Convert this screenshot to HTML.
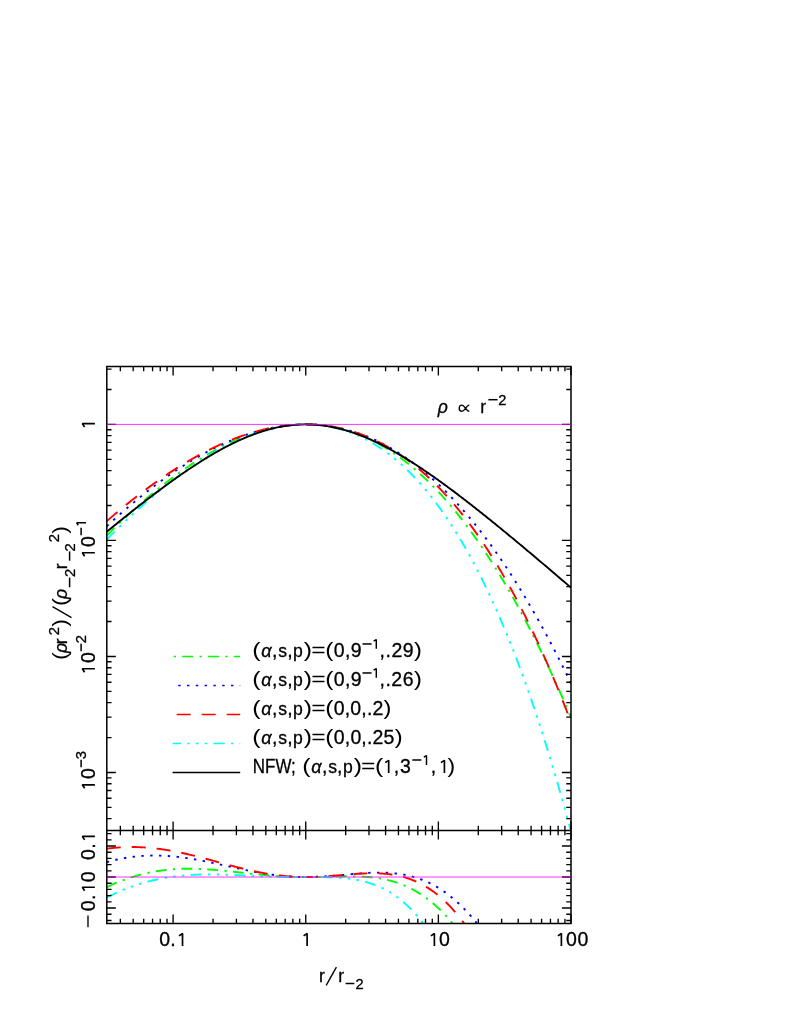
<!DOCTYPE html><html><head><meta charset="utf-8"><title>profile</title><style>html,body{margin:0;padding:0;background:#fff}svg{display:block;will-change:transform}text{font-family:"Liberation Sans",sans-serif;fill:#000;white-space:pre;stroke:#000;stroke-width:0.3px}</style></head><body>
<svg width="789" height="1021" viewBox="0 0 789 1021">
<rect width="789" height="1021" fill="#fff"/>
<defs><clipPath id="c1"><rect x="106.80" y="366.40" width="464.20" height="464.10"/></clipPath><clipPath id="c2"><rect x="106.80" y="830.50" width="464.20" height="93.05"/></clipPath></defs>
<g clip-path="url(#c1)" fill="none" stroke-width="1.90">
<path d="M106.80 535.53 L107.96 534.37 L109.12 533.22 L110.28 532.07 L111.44 530.92 L112.60 529.78 L113.76 528.64 L114.92 527.51 L116.08 526.38 L117.24 525.26 L118.40 524.14 L119.57 523.03 L120.73 521.92 L121.89 520.81 L123.05 519.71 L124.21 518.62 L125.37 517.53 L126.53 516.45 L127.69 515.37 L128.85 514.30 L130.01 513.23 L131.17 512.16 L132.33 511.10 L133.49 510.05 L134.65 509.00 L135.81 507.96 L136.97 506.92 L138.13 505.89 L139.29 504.86 L140.45 503.83 L141.62 502.82 L142.78 501.80 L143.94 500.80 L145.10 499.80 L146.26 498.80 L147.42 497.81 L148.58 496.82 L149.74 495.84 L150.90 494.87 L152.06 493.90 L153.22 492.94 L154.38 491.98 L155.54 491.02 L156.70 490.08 L157.86 489.14 L159.02 488.20 L160.18 487.27 L161.34 486.35 L162.50 485.43 L163.66 484.51 L164.82 483.61 L165.99 482.70 L167.15 481.81 L168.31 480.92 L169.47 480.03 L170.63 479.16 L171.79 478.28 L172.95 477.42 L174.11 476.56 L175.27 475.70 L176.43 474.85 L177.59 474.01 L178.75 473.17 L179.91 472.34 L181.07 471.52 L182.23 470.70 L183.39 469.89 L184.55 469.08 L185.71 468.28 L186.87 467.49 L188.04 466.70 L189.20 465.92 L190.36 465.15 L191.52 464.38 L192.68 463.62 L193.84 462.86 L195.00 462.11 L196.16 461.37 L197.32 460.63 L198.48 459.90 L199.64 459.18 L200.80 458.47 L201.96 457.76 L203.12 457.05 L204.28 456.36 L205.44 455.67 L206.60 454.98 L207.76 454.31 L208.92 453.64 L210.08 452.97 L211.25 452.32 L212.41 451.67 L213.57 451.02 L214.73 450.39 L215.89 449.76 L217.05 449.14 L218.21 448.52 L219.37 447.92 L220.53 447.32 L221.69 446.72 L222.85 446.14 L224.01 445.56 L225.17 444.98 L226.33 444.42 L227.49 443.86 L228.65 443.31 L229.81 442.77 L230.97 442.23 L232.13 441.70 L233.29 441.18 L234.45 440.67 L235.62 440.16 L236.78 439.66 L237.94 439.17 L239.10 438.68 L240.26 438.21 L241.42 437.74 L242.58 437.28 L243.74 436.82 L244.90 436.37 L246.06 435.94 L247.22 435.50 L248.38 435.08 L249.54 434.67 L250.70 434.26 L251.86 433.86 L253.02 433.47 L254.18 433.08 L255.34 432.70 L256.50 432.34 L257.67 431.98 L258.83 431.62 L259.99 431.28 L261.15 430.94 L262.31 430.61 L263.47 430.29 L264.63 429.98 L265.79 429.68 L266.95 429.38 L268.11 429.09 L269.27 428.81 L270.43 428.54 L271.59 428.28 L272.75 428.03 L273.91 427.78 L275.07 427.54 L276.23 427.31 L277.39 427.09 L278.55 426.88 L279.71 426.68 L280.88 426.48 L282.04 426.30 L283.20 426.12 L284.36 425.95 L285.52 425.79 L286.68 425.64 L287.84 425.49 L289.00 425.36 L290.16 425.23 L291.32 425.12 L292.48 425.01 L293.64 424.91 L294.80 424.82 L295.96 424.74 L297.12 424.67 L298.28 424.60 L299.44 424.55 L300.60 424.50 L301.76 424.47 L302.92 424.44 L304.09 424.42 L305.25 424.41 L306.41 424.41 L307.57 424.42 L308.73 424.44 L309.89 424.47 L311.05 424.51 L312.21 424.56 L313.37 424.61 L314.53 424.68 L315.69 424.75 L316.85 424.84 L318.01 424.93 L319.17 425.04 L320.33 425.15 L321.49 425.27 L322.65 425.41 L323.81 425.55 L324.97 425.70 L326.13 425.86 L327.30 426.04 L328.46 426.22 L329.62 426.41 L330.78 426.61 L331.94 426.82 L333.10 427.04 L334.26 427.27 L335.42 427.51 L336.58 427.76 L337.74 428.02 L338.90 428.29 L340.06 428.58 L341.22 428.87 L342.38 429.17 L343.54 429.48 L344.70 429.80 L345.86 430.13 L347.02 430.47 L348.18 430.83 L349.34 431.19 L350.50 431.56 L351.67 431.94 L352.83 432.34 L353.99 432.74 L355.15 433.16 L356.31 433.58 L357.47 434.02 L358.63 434.46 L359.79 434.92 L360.95 435.39 L362.11 435.86 L363.27 436.35 L364.43 436.85 L365.59 437.36 L366.75 437.88 L367.91 438.41 L369.07 438.95 L370.23 439.51 L371.39 440.07 L372.55 440.65 L373.72 441.23 L374.88 441.83 L376.04 442.43 L377.20 443.05 L378.36 443.68 L379.52 444.32 L380.68 444.97 L381.84 445.64 L383.00 446.31 L384.16 446.99 L385.32 447.69 L386.48 448.40 L387.64 449.11 L388.80 449.84 L389.96 450.59 L391.12 451.34 L392.28 452.10 L393.44 452.88 L394.60 453.66 L395.76 454.46 L396.93 455.27 L398.09 456.09 L399.25 456.92 L400.41 457.76 L401.57 458.62 L402.73 459.48 L403.89 460.36 L405.05 461.25 L406.21 462.15 L407.37 463.07 L408.53 463.99 L409.69 464.93 L410.85 465.87 L412.01 466.83 L413.17 467.81 L414.33 468.79 L415.49 469.78 L416.65 470.79 L417.81 471.81 L418.97 472.84 L420.13 473.88 L421.30 474.94 L422.46 476.00 L423.62 477.08 L424.78 478.17 L425.94 479.27 L427.10 480.39 L428.26 481.51 L429.42 482.65 L430.58 483.80 L431.74 484.97 L432.90 486.14 L434.06 487.33 L435.22 488.53 L436.38 489.74 L437.54 490.96 L438.70 492.20 L439.86 493.45 L441.02 494.71 L442.18 495.98 L443.35 497.27 L444.51 498.56 L445.67 499.87 L446.83 501.20 L447.99 502.53 L449.15 503.88 L450.31 505.24 L451.47 506.61 L452.63 507.99 L453.79 509.39 L454.95 510.80 L456.11 512.22 L457.27 513.66 L458.43 515.10 L459.59 516.56 L460.75 518.04 L461.91 519.52 L463.07 521.02 L464.23 522.53 L465.39 524.05 L466.56 525.59 L467.72 527.14 L468.88 528.70 L470.04 530.27 L471.20 531.86 L472.36 533.46 L473.52 535.07 L474.68 536.70 L475.84 538.33 L477.00 539.98 L478.16 541.65 L479.32 543.32 L480.48 545.01 L481.64 546.72 L482.80 548.43 L483.96 550.16 L485.12 551.90 L486.28 553.65 L487.44 555.42 L488.60 557.20 L489.77 558.99 L490.93 560.80 L492.09 562.62 L493.25 564.45 L494.41 566.29 L495.57 568.15 L496.73 570.02 L497.89 571.91 L499.05 573.80 L500.21 575.72 L501.37 577.64 L502.53 579.57 L503.69 581.52 L504.85 583.49 L506.01 585.46 L507.17 587.45 L508.33 589.45 L509.49 591.47 L510.65 593.50 L511.81 595.54 L512.98 597.59 L514.14 599.66 L515.30 601.74 L516.46 603.84 L517.62 605.95 L518.78 608.07 L519.94 610.20 L521.10 612.35 L522.26 614.51 L523.42 616.68 L524.58 618.87 L525.74 621.07 L526.90 623.28 L528.06 625.51 L529.22 627.75 L530.38 630.01 L531.54 632.27 L532.70 634.55 L533.86 636.85 L535.02 639.15 L536.18 641.47 L537.35 643.81 L538.51 646.15 L539.67 648.51 L540.83 650.89 L541.99 653.27 L543.15 655.67 L544.31 658.09 L545.47 660.51 L546.63 662.95 L547.79 665.41 L548.95 667.87 L550.11 670.35 L551.27 672.85 L552.43 675.35 L553.59 677.87 L554.75 680.41 L555.91 682.96 L557.07 685.52 L558.23 688.09 L559.39 690.68 L560.56 693.28 L561.72 695.89 L562.88 698.52 L564.04 701.16 L565.20 703.81 L566.36 706.48 L567.52 709.16 L568.68 711.85 L569.84 714.56 L571.00 717.28" stroke="#00ff00" stroke-dasharray="10.9 6.4 2.3 6.2"/>
<path d="M106.80 526.18 L107.96 525.11 L109.12 524.04 L110.28 522.97 L111.44 521.91 L112.60 520.85 L113.76 519.80 L114.92 518.75 L116.08 517.71 L117.24 516.67 L118.40 515.63 L119.57 514.60 L120.73 513.58 L121.89 512.56 L123.05 511.54 L124.21 510.53 L125.37 509.52 L126.53 508.52 L127.69 507.53 L128.85 506.53 L130.01 505.55 L131.17 504.56 L132.33 503.59 L133.49 502.61 L134.65 501.65 L135.81 500.68 L136.97 499.73 L138.13 498.77 L139.29 497.83 L140.45 496.88 L141.62 495.95 L142.78 495.01 L143.94 494.09 L145.10 493.16 L146.26 492.25 L147.42 491.33 L148.58 490.43 L149.74 489.52 L150.90 488.63 L152.06 487.74 L153.22 486.85 L154.38 485.97 L155.54 485.09 L156.70 484.22 L157.86 483.36 L159.02 482.50 L160.18 481.64 L161.34 480.79 L162.50 479.95 L163.66 479.11 L164.82 478.28 L165.99 477.45 L167.15 476.63 L168.31 475.81 L169.47 475.00 L170.63 474.20 L171.79 473.40 L172.95 472.60 L174.11 471.82 L175.27 471.03 L176.43 470.26 L177.59 469.48 L178.75 468.72 L179.91 467.96 L181.07 467.20 L182.23 466.46 L183.39 465.71 L184.55 464.98 L185.71 464.24 L186.87 463.52 L188.04 462.80 L189.20 462.09 L190.36 461.38 L191.52 460.68 L192.68 459.98 L193.84 459.29 L195.00 458.61 L196.16 457.93 L197.32 457.26 L198.48 456.59 L199.64 455.93 L200.80 455.28 L201.96 454.63 L203.12 453.99 L204.28 453.36 L205.44 452.73 L206.60 452.10 L207.76 451.49 L208.92 450.88 L210.08 450.27 L211.25 449.68 L212.41 449.09 L213.57 448.50 L214.73 447.92 L215.89 447.35 L217.05 446.79 L218.21 446.23 L219.37 445.67 L220.53 445.13 L221.69 444.59 L222.85 444.05 L224.01 443.53 L225.17 443.01 L226.33 442.50 L227.49 441.99 L228.65 441.49 L229.81 441.00 L230.97 440.51 L232.13 440.03 L233.29 439.56 L234.45 439.09 L235.62 438.63 L236.78 438.18 L237.94 437.73 L239.10 437.29 L240.26 436.86 L241.42 436.44 L242.58 436.02 L243.74 435.61 L244.90 435.20 L246.06 434.81 L247.22 434.42 L248.38 434.03 L249.54 433.66 L250.70 433.29 L251.86 432.93 L253.02 432.57 L254.18 432.22 L255.34 431.88 L256.50 431.55 L257.67 431.23 L258.83 430.91 L259.99 430.60 L261.15 430.29 L262.31 430.00 L263.47 429.71 L264.63 429.43 L265.79 429.15 L266.95 428.88 L268.11 428.63 L269.27 428.37 L270.43 428.13 L271.59 427.89 L272.75 427.66 L273.91 427.44 L275.07 427.23 L276.23 427.02 L277.39 426.82 L278.55 426.63 L279.71 426.45 L280.88 426.27 L282.04 426.10 L283.20 425.94 L284.36 425.79 L285.52 425.65 L286.68 425.51 L287.84 425.38 L289.00 425.26 L290.16 425.15 L291.32 425.04 L292.48 424.95 L293.64 424.86 L294.80 424.78 L295.96 424.70 L297.12 424.64 L298.28 424.58 L299.44 424.53 L300.60 424.49 L301.76 424.46 L302.92 424.44 L304.09 424.42 L305.25 424.41 L306.41 424.41 L307.57 424.42 L308.73 424.44 L309.89 424.47 L311.05 424.50 L312.21 424.54 L313.37 424.59 L314.53 424.65 L315.69 424.72 L316.85 424.79 L318.01 424.88 L319.17 424.97 L320.33 425.07 L321.49 425.18 L322.65 425.30 L323.81 425.43 L324.97 425.57 L326.13 425.71 L327.30 425.86 L328.46 426.03 L329.62 426.20 L330.78 426.38 L331.94 426.57 L333.10 426.76 L334.26 426.97 L335.42 427.18 L336.58 427.41 L337.74 427.64 L338.90 427.88 L340.06 428.13 L341.22 428.39 L342.38 428.66 L343.54 428.94 L344.70 429.23 L345.86 429.52 L347.02 429.83 L348.18 430.14 L349.34 430.46 L350.50 430.80 L351.67 431.14 L352.83 431.49 L353.99 431.85 L355.15 432.22 L356.31 432.59 L357.47 432.98 L358.63 433.38 L359.79 433.79 L360.95 434.20 L362.11 434.63 L363.27 435.06 L364.43 435.51 L365.59 435.96 L366.75 436.42 L367.91 436.89 L369.07 437.38 L370.23 437.87 L371.39 438.37 L372.55 438.88 L373.72 439.40 L374.88 439.93 L376.04 440.47 L377.20 441.02 L378.36 441.58 L379.52 442.15 L380.68 442.73 L381.84 443.31 L383.00 443.91 L384.16 444.52 L385.32 445.14 L386.48 445.77 L387.64 446.40 L388.80 447.05 L389.96 447.71 L391.12 448.38 L392.28 449.05 L393.44 449.74 L394.60 450.44 L395.76 451.14 L396.93 451.86 L398.09 452.59 L399.25 453.33 L400.41 454.07 L401.57 454.83 L402.73 455.60 L403.89 456.38 L405.05 457.17 L406.21 457.97 L407.37 458.77 L408.53 459.59 L409.69 460.42 L410.85 461.26 L412.01 462.11 L413.17 462.97 L414.33 463.84 L415.49 464.72 L416.65 465.62 L417.81 466.52 L418.97 467.43 L420.13 468.35 L421.30 469.29 L422.46 470.23 L423.62 471.18 L424.78 472.15 L425.94 473.12 L427.10 474.11 L428.26 475.11 L429.42 476.11 L430.58 477.13 L431.74 478.16 L432.90 479.20 L434.06 480.25 L435.22 481.31 L436.38 482.38 L437.54 483.46 L438.70 484.56 L439.86 485.66 L441.02 486.77 L442.18 487.90 L443.35 489.03 L444.51 490.18 L445.67 491.34 L446.83 492.51 L447.99 493.69 L449.15 494.88 L450.31 496.08 L451.47 497.29 L452.63 498.51 L453.79 499.75 L454.95 500.99 L456.11 502.25 L457.27 503.52 L458.43 504.79 L459.59 506.08 L460.75 507.38 L461.91 508.70 L463.07 510.02 L464.23 511.35 L465.39 512.70 L466.56 514.05 L467.72 515.42 L468.88 516.80 L470.04 518.19 L471.20 519.59 L472.36 521.00 L473.52 522.42 L474.68 523.86 L475.84 525.31 L477.00 526.76 L478.16 528.23 L479.32 529.71 L480.48 531.20 L481.64 532.70 L482.80 534.22 L483.96 535.74 L485.12 537.28 L486.28 538.83 L487.44 540.39 L488.60 541.96 L489.77 543.54 L490.93 545.13 L492.09 546.74 L493.25 548.36 L494.41 549.98 L495.57 551.62 L496.73 553.27 L497.89 554.94 L499.05 556.61 L500.21 558.30 L501.37 559.99 L502.53 561.70 L503.69 563.42 L504.85 565.15 L506.01 566.90 L507.17 568.65 L508.33 570.42 L509.49 572.20 L510.65 573.99 L511.81 575.79 L512.98 577.60 L514.14 579.43 L515.30 581.27 L516.46 583.11 L517.62 584.97 L518.78 586.85 L519.94 588.73 L521.10 590.62 L522.26 592.53 L523.42 594.45 L524.58 596.38 L525.74 598.32 L526.90 600.28 L528.06 602.24 L529.22 604.22 L530.38 606.21 L531.54 608.21 L532.70 610.22 L533.86 612.25 L535.02 614.28 L536.18 616.33 L537.35 618.39 L538.51 620.47 L539.67 622.55 L540.83 624.65 L541.99 626.75 L543.15 628.87 L544.31 631.00 L545.47 633.15 L546.63 635.30 L547.79 637.47 L548.95 639.65 L550.11 641.84 L551.27 644.04 L552.43 646.26 L553.59 648.48 L554.75 650.72 L555.91 652.97 L557.07 655.23 L558.23 657.51 L559.39 659.79 L560.56 662.09 L561.72 664.40 L562.88 666.72 L564.04 669.06 L565.20 671.40 L566.36 673.76 L567.52 676.13 L568.68 678.51 L569.84 680.91 L571.00 683.31" stroke="#0000ff" stroke-dasharray="2.4 6.4"/>
<path d="M106.80 521.14 L107.96 520.13 L109.12 519.12 L110.28 518.12 L111.44 517.12 L112.60 516.13 L113.76 515.14 L114.92 514.15 L116.08 513.17 L117.24 512.19 L118.40 511.22 L119.57 510.25 L120.73 509.29 L121.89 508.33 L123.05 507.37 L124.21 506.42 L125.37 505.47 L126.53 504.53 L127.69 503.59 L128.85 502.66 L130.01 501.73 L131.17 500.80 L132.33 499.88 L133.49 498.96 L134.65 498.05 L135.81 497.15 L136.97 496.24 L138.13 495.35 L139.29 494.45 L140.45 493.56 L141.62 492.68 L142.78 491.80 L143.94 490.92 L145.10 490.05 L146.26 489.19 L147.42 488.33 L148.58 487.47 L149.74 486.62 L150.90 485.77 L152.06 484.93 L153.22 484.09 L154.38 483.26 L155.54 482.43 L156.70 481.61 L157.86 480.79 L159.02 479.98 L160.18 479.17 L161.34 478.37 L162.50 477.57 L163.66 476.78 L164.82 475.99 L165.99 475.21 L167.15 474.43 L168.31 473.65 L169.47 472.89 L170.63 472.12 L171.79 471.37 L172.95 470.61 L174.11 469.87 L175.27 469.12 L176.43 468.39 L177.59 467.65 L178.75 466.93 L179.91 466.21 L181.07 465.49 L182.23 464.78 L183.39 464.07 L184.55 463.37 L185.71 462.68 L186.87 461.99 L188.04 461.31 L189.20 460.63 L190.36 459.95 L191.52 459.29 L192.68 458.62 L193.84 457.97 L195.00 457.32 L196.16 456.67 L197.32 456.03 L198.48 455.40 L199.64 454.77 L200.80 454.15 L201.96 453.53 L203.12 452.92 L204.28 452.31 L205.44 451.71 L206.60 451.12 L207.76 450.53 L208.92 449.95 L210.08 449.37 L211.25 448.80 L212.41 448.23 L213.57 447.67 L214.73 447.12 L215.89 446.57 L217.05 446.03 L218.21 445.50 L219.37 444.97 L220.53 444.45 L221.69 443.93 L222.85 443.42 L224.01 442.91 L225.17 442.41 L226.33 441.92 L227.49 441.44 L228.65 440.96 L229.81 440.48 L230.97 440.01 L232.13 439.55 L233.29 439.10 L234.45 438.65 L235.62 438.21 L236.78 437.77 L237.94 437.34 L239.10 436.92 L240.26 436.50 L241.42 436.10 L242.58 435.69 L243.74 435.30 L244.90 434.91 L246.06 434.52 L247.22 434.15 L248.38 433.78 L249.54 433.41 L250.70 433.06 L251.86 432.71 L253.02 432.36 L254.18 432.03 L255.34 431.70 L256.50 431.37 L257.67 431.06 L258.83 430.75 L259.99 430.45 L261.15 430.15 L262.31 429.87 L263.47 429.59 L264.63 429.31 L265.79 429.04 L266.95 428.79 L268.11 428.53 L269.27 428.29 L270.43 428.05 L271.59 427.82 L272.75 427.60 L273.91 427.38 L275.07 427.17 L276.23 426.97 L277.39 426.78 L278.55 426.59 L279.71 426.41 L280.88 426.24 L282.04 426.07 L283.20 425.92 L284.36 425.77 L285.52 425.63 L286.68 425.49 L287.84 425.37 L289.00 425.25 L290.16 425.14 L291.32 425.03 L292.48 424.94 L293.64 424.85 L294.80 424.77 L295.96 424.70 L297.12 424.64 L298.28 424.58 L299.44 424.53 L300.60 424.49 L301.76 424.46 L302.92 424.44 L304.09 424.42 L305.25 424.41 L306.41 424.41 L307.57 424.42 L308.73 424.44 L309.89 424.46 L311.05 424.50 L312.21 424.54 L313.37 424.59 L314.53 424.65 L315.69 424.72 L316.85 424.79 L318.01 424.88 L319.17 424.97 L320.33 425.07 L321.49 425.18 L322.65 425.30 L323.81 425.43 L324.97 425.56 L326.13 425.71 L327.30 425.86 L328.46 426.02 L329.62 426.19 L330.78 426.37 L331.94 426.56 L333.10 426.76 L334.26 426.97 L335.42 427.18 L336.58 427.41 L337.74 427.64 L338.90 427.88 L340.06 428.14 L341.22 428.40 L342.38 428.67 L343.54 428.95 L344.70 429.24 L345.86 429.54 L347.02 429.85 L348.18 430.16 L349.34 430.49 L350.50 430.83 L351.67 431.17 L352.83 431.53 L353.99 431.89 L355.15 432.27 L356.31 432.65 L357.47 433.05 L358.63 433.45 L359.79 433.87 L360.95 434.29 L362.11 434.73 L363.27 435.17 L364.43 435.62 L365.59 436.09 L366.75 436.56 L367.91 437.05 L369.07 437.54 L370.23 438.04 L371.39 438.56 L372.55 439.08 L373.72 439.62 L374.88 440.16 L376.04 440.72 L377.20 441.29 L378.36 441.86 L379.52 442.45 L380.68 443.05 L381.84 443.66 L383.00 444.28 L384.16 444.91 L385.32 445.55 L386.48 446.20 L387.64 446.86 L388.80 447.54 L389.96 448.22 L391.12 448.92 L392.28 449.62 L393.44 450.34 L394.60 451.07 L395.76 451.81 L396.93 452.56 L398.09 453.32 L399.25 454.09 L400.41 454.88 L401.57 455.67 L402.73 456.48 L403.89 457.30 L405.05 458.13 L406.21 458.97 L407.37 459.82 L408.53 460.69 L409.69 461.57 L410.85 462.45 L412.01 463.35 L413.17 464.27 L414.33 465.19 L415.49 466.13 L416.65 467.07 L417.81 468.03 L418.97 469.01 L420.13 469.99 L421.30 470.99 L422.46 471.99 L423.62 473.02 L424.78 474.05 L425.94 475.09 L427.10 476.15 L428.26 477.22 L429.42 478.30 L430.58 479.40 L431.74 480.51 L432.90 481.63 L434.06 482.76 L435.22 483.91 L436.38 485.07 L437.54 486.24 L438.70 487.42 L439.86 488.62 L441.02 489.83 L442.18 491.06 L443.35 492.29 L444.51 493.54 L445.67 494.81 L446.83 496.08 L447.99 497.37 L449.15 498.68 L450.31 500.00 L451.47 501.33 L452.63 502.67 L453.79 504.03 L454.95 505.40 L456.11 506.78 L457.27 508.18 L458.43 509.60 L459.59 511.02 L460.75 512.46 L461.91 513.92 L463.07 515.39 L464.23 516.87 L465.39 518.37 L466.56 519.88 L467.72 521.40 L468.88 522.94 L470.04 524.50 L471.20 526.07 L472.36 527.65 L473.52 529.25 L474.68 530.86 L475.84 532.49 L477.00 534.13 L478.16 535.79 L479.32 537.46 L480.48 539.15 L481.64 540.85 L482.80 542.56 L483.96 544.30 L485.12 546.04 L486.28 547.81 L487.44 549.58 L488.60 551.38 L489.77 553.18 L490.93 555.01 L492.09 556.85 L493.25 558.70 L494.41 560.57 L495.57 562.46 L496.73 564.36 L497.89 566.28 L499.05 568.22 L500.21 570.17 L501.37 572.13 L502.53 574.12 L503.69 576.11 L504.85 578.13 L506.01 580.16 L507.17 582.21 L508.33 584.27 L509.49 586.35 L510.65 588.45 L511.81 590.56 L512.98 592.70 L514.14 594.84 L515.30 597.01 L516.46 599.19 L517.62 601.39 L518.78 603.60 L519.94 605.83 L521.10 608.08 L522.26 610.35 L523.42 612.64 L524.58 614.94 L525.74 617.26 L526.90 619.59 L528.06 621.95 L529.22 624.32 L530.38 626.71 L531.54 629.12 L532.70 631.54 L533.86 633.99 L535.02 636.45 L536.18 638.93 L537.35 641.43 L538.51 643.94 L539.67 646.48 L540.83 649.03 L541.99 651.60 L543.15 654.19 L544.31 656.80 L545.47 659.43 L546.63 662.08 L547.79 664.74 L548.95 667.43 L550.11 670.13 L551.27 672.85 L552.43 675.60 L553.59 678.36 L554.75 681.14 L555.91 683.94 L557.07 686.76 L558.23 689.59 L559.39 692.45 L560.56 695.33 L561.72 698.23 L562.88 701.15 L564.04 704.09 L565.20 707.04 L566.36 710.02 L567.52 713.02 L568.68 716.04 L569.84 719.08 L571.00 722.14" stroke="#ff0000" stroke-dasharray="14 11"/>
<path d="M106.80 539.37 L107.96 538.19 L109.12 537.03 L110.28 535.86 L111.44 534.70 L112.60 533.55 L113.76 532.40 L114.92 531.25 L116.08 530.11 L117.24 528.98 L118.40 527.84 L119.57 526.72 L120.73 525.59 L121.89 524.47 L123.05 523.36 L124.21 522.25 L125.37 521.15 L126.53 520.05 L127.69 518.95 L128.85 517.86 L130.01 516.77 L131.17 515.69 L132.33 514.62 L133.49 513.55 L134.65 512.48 L135.81 511.42 L136.97 510.36 L138.13 509.31 L139.29 508.26 L140.45 507.22 L141.62 506.18 L142.78 505.15 L143.94 504.12 L145.10 503.10 L146.26 502.08 L147.42 501.07 L148.58 500.07 L149.74 499.06 L150.90 498.07 L152.06 497.08 L153.22 496.09 L154.38 495.11 L155.54 494.14 L156.70 493.17 L157.86 492.20 L159.02 491.24 L160.18 490.29 L161.34 489.34 L162.50 488.40 L163.66 487.46 L164.82 486.53 L165.99 485.60 L167.15 484.68 L168.31 483.77 L169.47 482.86 L170.63 481.95 L171.79 481.06 L172.95 480.16 L174.11 479.28 L175.27 478.40 L176.43 477.52 L177.59 476.65 L178.75 475.79 L179.91 474.93 L181.07 474.08 L182.23 473.23 L183.39 472.40 L184.55 471.56 L185.71 470.73 L186.87 469.91 L188.04 469.10 L189.20 468.29 L190.36 467.49 L191.52 466.69 L192.68 465.90 L193.84 465.11 L195.00 464.34 L196.16 463.56 L197.32 462.80 L198.48 462.04 L199.64 461.29 L200.80 460.54 L201.96 459.80 L203.12 459.07 L204.28 458.34 L205.44 457.62 L206.60 456.91 L207.76 456.20 L208.92 455.50 L210.08 454.81 L211.25 454.12 L212.41 453.44 L213.57 452.77 L214.73 452.10 L215.89 451.44 L217.05 450.79 L218.21 450.15 L219.37 449.51 L220.53 448.88 L221.69 448.25 L222.85 447.64 L224.01 447.03 L225.17 446.42 L226.33 445.83 L227.49 445.24 L228.65 444.66 L229.81 444.08 L230.97 443.52 L232.13 442.96 L233.29 442.41 L234.45 441.86 L235.62 441.33 L236.78 440.80 L237.94 440.28 L239.10 439.76 L240.26 439.26 L241.42 438.76 L242.58 438.27 L243.74 437.78 L244.90 437.31 L246.06 436.84 L247.22 436.38 L248.38 435.93 L249.54 435.49 L250.70 435.05 L251.86 434.62 L253.02 434.20 L254.18 433.79 L255.34 433.39 L256.50 433.00 L257.67 432.61 L258.83 432.23 L259.99 431.86 L261.15 431.50 L262.31 431.15 L263.47 430.80 L264.63 430.47 L265.79 430.14 L266.95 429.82 L268.11 429.51 L269.27 429.21 L270.43 428.91 L271.59 428.63 L272.75 428.35 L273.91 428.09 L275.07 427.83 L276.23 427.58 L277.39 427.34 L278.55 427.11 L279.71 426.89 L280.88 426.68 L282.04 426.48 L283.20 426.28 L284.36 426.10 L285.52 425.92 L286.68 425.76 L287.84 425.60 L289.00 425.45 L290.16 425.31 L291.32 425.19 L292.48 425.07 L293.64 424.96 L294.80 424.86 L295.96 424.77 L297.12 424.69 L298.28 424.62 L299.44 424.56 L300.60 424.51 L301.76 424.47 L302.92 424.44 L304.09 424.42 L305.25 424.41 L306.41 424.41 L307.57 424.43 L308.73 424.45 L309.89 424.48 L311.05 424.52 L312.21 424.57 L313.37 424.64 L314.53 424.71 L315.69 424.79 L316.85 424.89 L318.01 424.99 L319.17 425.11 L320.33 425.24 L321.49 425.38 L322.65 425.53 L323.81 425.69 L324.97 425.86 L326.13 426.04 L327.30 426.23 L328.46 426.44 L329.62 426.65 L330.78 426.88 L331.94 427.12 L333.10 427.37 L334.26 427.63 L335.42 427.90 L336.58 428.19 L337.74 428.49 L338.90 428.79 L340.06 429.11 L341.22 429.45 L342.38 429.79 L343.54 430.15 L344.70 430.51 L345.86 430.89 L347.02 431.29 L348.18 431.69 L349.34 432.11 L350.50 432.54 L351.67 432.98 L352.83 433.43 L353.99 433.90 L355.15 434.38 L356.31 434.87 L357.47 435.38 L358.63 435.89 L359.79 436.42 L360.95 436.97 L362.11 437.52 L363.27 438.09 L364.43 438.68 L365.59 439.27 L366.75 439.88 L367.91 440.50 L369.07 441.14 L370.23 441.79 L371.39 442.45 L372.55 443.13 L373.72 443.82 L374.88 444.52 L376.04 445.24 L377.20 445.97 L378.36 446.71 L379.52 447.47 L380.68 448.25 L381.84 449.03 L383.00 449.83 L384.16 450.65 L385.32 451.48 L386.48 452.33 L387.64 453.19 L388.80 454.06 L389.96 454.95 L391.12 455.85 L392.28 456.77 L393.44 457.70 L394.60 458.65 L395.76 459.61 L396.93 460.59 L398.09 461.59 L399.25 462.59 L400.41 463.62 L401.57 464.66 L402.73 465.71 L403.89 466.78 L405.05 467.87 L406.21 468.97 L407.37 470.09 L408.53 471.22 L409.69 472.37 L410.85 473.54 L412.01 474.72 L413.17 475.92 L414.33 477.13 L415.49 478.36 L416.65 479.61 L417.81 480.87 L418.97 482.15 L420.13 483.45 L421.30 484.77 L422.46 486.10 L423.62 487.44 L424.78 488.81 L425.94 490.19 L427.10 491.59 L428.26 493.01 L429.42 494.44 L430.58 495.89 L431.74 497.36 L432.90 498.85 L434.06 500.35 L435.22 501.87 L436.38 503.41 L437.54 504.97 L438.70 506.55 L439.86 508.14 L441.02 509.76 L442.18 511.39 L443.35 513.04 L444.51 514.71 L445.67 516.39 L446.83 518.10 L447.99 519.82 L449.15 521.57 L450.31 523.33 L451.47 525.11 L452.63 526.91 L453.79 528.73 L454.95 530.57 L456.11 532.43 L457.27 534.31 L458.43 536.21 L459.59 538.13 L460.75 540.07 L461.91 542.03 L463.07 544.00 L464.23 546.00 L465.39 548.02 L466.56 550.06 L467.72 552.12 L468.88 554.20 L470.04 556.31 L471.20 558.43 L472.36 560.57 L473.52 562.74 L474.68 564.92 L475.84 567.13 L477.00 569.36 L478.16 571.61 L479.32 573.88 L480.48 576.17 L481.64 578.49 L482.80 580.83 L483.96 583.19 L485.12 585.57 L486.28 587.97 L487.44 590.40 L488.60 592.85 L489.77 595.32 L490.93 597.81 L492.09 600.33 L493.25 602.87 L494.41 605.43 L495.57 608.02 L496.73 610.62 L497.89 613.26 L499.05 615.91 L500.21 618.59 L501.37 621.30 L502.53 624.03 L503.69 626.78 L504.85 629.55 L506.01 632.35 L507.17 635.18 L508.33 638.03 L509.49 640.90 L510.65 643.80 L511.81 646.72 L512.98 649.67 L514.14 652.64 L515.30 655.64 L516.46 658.67 L517.62 661.72 L518.78 664.79 L519.94 667.89 L521.10 671.02 L522.26 674.17 L523.42 677.35 L524.58 680.56 L525.74 683.79 L526.90 687.05 L528.06 690.33 L529.22 693.65 L530.38 696.98 L531.54 700.35 L532.70 703.74 L533.86 707.16 L535.02 710.61 L536.18 714.09 L537.35 717.59 L538.51 721.12 L539.67 724.68 L540.83 728.27 L541.99 731.89 L543.15 735.53 L544.31 739.21 L545.47 742.91 L546.63 746.64 L547.79 750.40 L548.95 754.19 L550.11 758.01 L551.27 761.86 L552.43 765.74 L553.59 769.65 L554.75 773.58 L555.91 777.55 L557.07 781.55 L558.23 785.58 L559.39 789.64 L560.56 793.73 L561.72 797.85 L562.88 802.00 L564.04 806.19 L565.20 810.40 L566.36 814.65 L567.52 818.93 L568.68 823.24 L569.84 827.58 L571.00 831.95" stroke="#00ffff" stroke-dasharray="11.1 6.4 2.5 6.2 2.5 6.2 2.5 6.3"/>
<path d="M106.80 531.73 L107.96 530.78 L109.12 529.83 L110.28 528.88 L111.44 527.93 L112.60 526.98 L113.76 526.04 L114.92 525.09 L116.08 524.15 L117.24 523.21 L118.40 522.27 L119.57 521.33 L120.73 520.39 L121.89 519.46 L123.05 518.52 L124.21 517.59 L125.37 516.66 L126.53 515.73 L127.69 514.80 L128.85 513.87 L130.01 512.95 L131.17 512.03 L132.33 511.11 L133.49 510.19 L134.65 509.27 L135.81 508.36 L136.97 507.44 L138.13 506.53 L139.29 505.62 L140.45 504.71 L141.62 503.81 L142.78 502.91 L143.94 502.01 L145.10 501.11 L146.26 500.21 L147.42 499.32 L148.58 498.42 L149.74 497.53 L150.90 496.65 L152.06 495.76 L153.22 494.88 L154.38 494.00 L155.54 493.12 L156.70 492.25 L157.86 491.38 L159.02 490.51 L160.18 489.64 L161.34 488.78 L162.50 487.92 L163.66 487.06 L164.82 486.20 L165.99 485.35 L167.15 484.50 L168.31 483.66 L169.47 482.82 L170.63 481.98 L171.79 481.14 L172.95 480.31 L174.11 479.48 L175.27 478.65 L176.43 477.83 L177.59 477.01 L178.75 476.20 L179.91 475.38 L181.07 474.58 L182.23 473.77 L183.39 472.97 L184.55 472.17 L185.71 471.38 L186.87 470.59 L188.04 469.81 L189.20 469.03 L190.36 468.25 L191.52 467.48 L192.68 466.71 L193.84 465.95 L195.00 465.19 L196.16 464.44 L197.32 463.69 L198.48 462.94 L199.64 462.20 L200.80 461.47 L201.96 460.74 L203.12 460.01 L204.28 459.29 L205.44 458.58 L206.60 457.87 L207.76 457.17 L208.92 456.47 L210.08 455.77 L211.25 455.08 L212.41 454.40 L213.57 453.72 L214.73 453.05 L215.89 452.39 L217.05 451.73 L218.21 451.07 L219.37 450.43 L220.53 449.78 L221.69 449.15 L222.85 448.52 L224.01 447.90 L225.17 447.28 L226.33 446.67 L227.49 446.07 L228.65 445.47 L229.81 444.88 L230.97 444.30 L232.13 443.72 L233.29 443.15 L234.45 442.59 L235.62 442.03 L236.78 441.49 L237.94 440.95 L239.10 440.41 L240.26 439.89 L241.42 439.37 L242.58 438.86 L243.74 438.36 L244.90 437.86 L246.06 437.37 L247.22 436.89 L248.38 436.42 L249.54 435.96 L250.70 435.50 L251.86 435.06 L253.02 434.62 L254.18 434.19 L255.34 433.76 L256.50 433.35 L257.67 432.95 L258.83 432.55 L259.99 432.16 L261.15 431.78 L262.31 431.41 L263.47 431.05 L264.63 430.70 L265.79 430.36 L266.95 430.02 L268.11 429.70 L269.27 429.38 L270.43 429.07 L271.59 428.78 L272.75 428.49 L273.91 428.21 L275.07 427.94 L276.23 427.68 L277.39 427.43 L278.55 427.19 L279.71 426.96 L280.88 426.74 L282.04 426.53 L283.20 426.33 L284.36 426.14 L285.52 425.96 L286.68 425.79 L287.84 425.62 L289.00 425.47 L290.16 425.33 L291.32 425.20 L292.48 425.08 L293.64 424.97 L294.80 424.87 L295.96 424.78 L297.12 424.69 L298.28 424.62 L299.44 424.56 L300.60 424.51 L301.76 424.47 L302.92 424.44 L304.09 424.42 L305.25 424.41 L306.41 424.41 L307.57 424.43 L308.73 424.45 L309.89 424.48 L311.05 424.52 L312.21 424.57 L313.37 424.63 L314.53 424.71 L315.69 424.79 L316.85 424.88 L318.01 424.98 L319.17 425.10 L320.33 425.22 L321.49 425.35 L322.65 425.49 L323.81 425.65 L324.97 425.81 L326.13 425.98 L327.30 426.17 L328.46 426.36 L329.62 426.56 L330.78 426.77 L331.94 427.00 L333.10 427.23 L334.26 427.47 L335.42 427.72 L336.58 427.98 L337.74 428.25 L338.90 428.53 L340.06 428.82 L341.22 429.12 L342.38 429.43 L343.54 429.74 L344.70 430.07 L345.86 430.40 L347.02 430.75 L348.18 431.10 L349.34 431.46 L350.50 431.84 L351.67 432.22 L352.83 432.61 L353.99 433.00 L355.15 433.41 L356.31 433.82 L357.47 434.25 L358.63 434.68 L359.79 435.12 L360.95 435.57 L362.11 436.02 L363.27 436.49 L364.43 436.96 L365.59 437.44 L366.75 437.93 L367.91 438.43 L369.07 438.93 L370.23 439.44 L371.39 439.96 L372.55 440.49 L373.72 441.02 L374.88 441.56 L376.04 442.11 L377.20 442.67 L378.36 443.23 L379.52 443.80 L380.68 444.38 L381.84 444.96 L383.00 445.56 L384.16 446.15 L385.32 446.76 L386.48 447.37 L387.64 447.99 L388.80 448.61 L389.96 449.24 L391.12 449.88 L392.28 450.52 L393.44 451.17 L394.60 451.82 L395.76 452.48 L396.93 453.15 L398.09 453.82 L399.25 454.50 L400.41 455.18 L401.57 455.87 L402.73 456.57 L403.89 457.27 L405.05 457.97 L406.21 458.68 L407.37 459.40 L408.53 460.12 L409.69 460.84 L410.85 461.57 L412.01 462.31 L413.17 463.05 L414.33 463.80 L415.49 464.55 L416.65 465.30 L417.81 466.06 L418.97 466.82 L420.13 467.59 L421.30 468.36 L422.46 469.14 L423.62 469.92 L424.78 470.71 L425.94 471.49 L427.10 472.29 L428.26 473.08 L429.42 473.89 L430.58 474.69 L431.74 475.50 L432.90 476.31 L434.06 477.13 L435.22 477.95 L436.38 478.77 L437.54 479.60 L438.70 480.43 L439.86 481.26 L441.02 482.10 L442.18 482.94 L443.35 483.78 L444.51 484.63 L445.67 485.47 L446.83 486.33 L447.99 487.18 L449.15 488.04 L450.31 488.90 L451.47 489.77 L452.63 490.63 L453.79 491.50 L454.95 492.37 L456.11 493.25 L457.27 494.13 L458.43 495.01 L459.59 495.89 L460.75 496.77 L461.91 497.66 L463.07 498.55 L464.23 499.44 L465.39 500.34 L466.56 501.24 L467.72 502.13 L468.88 503.04 L470.04 503.94 L471.20 504.84 L472.36 505.75 L473.52 506.66 L474.68 507.57 L475.84 508.49 L477.00 509.40 L478.16 510.32 L479.32 511.24 L480.48 512.16 L481.64 513.08 L482.80 514.01 L483.96 514.93 L485.12 515.86 L486.28 516.79 L487.44 517.72 L488.60 518.66 L489.77 519.59 L490.93 520.53 L492.09 521.46 L493.25 522.40 L494.41 523.34 L495.57 524.29 L496.73 525.23 L497.89 526.17 L499.05 527.12 L500.21 528.07 L501.37 529.02 L502.53 529.97 L503.69 530.92 L504.85 531.87 L506.01 532.82 L507.17 533.78 L508.33 534.73 L509.49 535.69 L510.65 536.65 L511.81 537.61 L512.98 538.57 L514.14 539.53 L515.30 540.49 L516.46 541.46 L517.62 542.42 L518.78 543.39 L519.94 544.36 L521.10 545.32 L522.26 546.29 L523.42 547.26 L524.58 548.23 L525.74 549.20 L526.90 550.17 L528.06 551.15 L529.22 552.12 L530.38 553.10 L531.54 554.07 L532.70 555.05 L533.86 556.02 L535.02 557.00 L536.18 557.98 L537.35 558.96 L538.51 559.94 L539.67 560.92 L540.83 561.90 L541.99 562.88 L543.15 563.86 L544.31 564.85 L545.47 565.83 L546.63 566.82 L547.79 567.80 L548.95 568.79 L550.11 569.77 L551.27 570.76 L552.43 571.75 L553.59 572.73 L554.75 573.72 L555.91 574.71 L557.07 575.70 L558.23 576.69 L559.39 577.68 L560.56 578.67 L561.72 579.66 L562.88 580.66 L564.04 581.65 L565.20 582.64 L566.36 583.63 L567.52 584.63 L568.68 585.62 L569.84 586.62 L571.00 587.61" stroke="#000000"/>
</g>
<g clip-path="url(#c2)" fill="none" stroke-width="1.90">
<path d="M106.80 887.18 L107.96 886.62 L109.12 886.08 L110.28 885.54 L111.44 885.01 L112.60 884.49 L113.76 883.98 L114.92 883.48 L116.08 882.98 L117.24 882.50 L118.40 882.02 L119.57 881.56 L120.73 881.10 L121.89 880.65 L123.05 880.21 L124.21 879.78 L125.37 879.36 L126.53 878.95 L127.69 878.54 L128.85 878.15 L130.01 877.76 L131.17 877.38 L132.33 877.01 L133.49 876.65 L134.65 876.30 L135.81 875.96 L136.97 875.62 L138.13 875.30 L139.29 874.98 L140.45 874.67 L141.62 874.37 L142.78 874.08 L143.94 873.80 L145.10 873.52 L146.26 873.25 L147.42 873.00 L148.58 872.75 L149.74 872.50 L150.90 872.27 L152.06 872.04 L153.22 871.83 L154.38 871.62 L155.54 871.41 L156.70 871.22 L157.86 871.03 L159.02 870.86 L160.18 870.69 L161.34 870.52 L162.50 870.37 L163.66 870.22 L164.82 870.08 L165.99 869.95 L167.15 869.82 L168.31 869.70 L169.47 869.59 L170.63 869.49 L171.79 869.39 L172.95 869.30 L174.11 869.22 L175.27 869.14 L176.43 869.07 L177.59 869.01 L178.75 868.95 L179.91 868.90 L181.07 868.86 L182.23 868.82 L183.39 868.79 L184.55 868.76 L185.71 868.74 L186.87 868.73 L188.04 868.72 L189.20 868.72 L190.36 868.72 L191.52 868.73 L192.68 868.75 L193.84 868.77 L195.00 868.79 L196.16 868.82 L197.32 868.86 L198.48 868.90 L199.64 868.94 L200.80 868.99 L201.96 869.05 L203.12 869.11 L204.28 869.17 L205.44 869.24 L206.60 869.31 L207.76 869.38 L208.92 869.46 L210.08 869.54 L211.25 869.63 L212.41 869.72 L213.57 869.81 L214.73 869.90 L215.89 870.00 L217.05 870.10 L218.21 870.21 L219.37 870.32 L220.53 870.42 L221.69 870.54 L222.85 870.65 L224.01 870.77 L225.17 870.88 L226.33 871.00 L227.49 871.12 L228.65 871.25 L229.81 871.37 L230.97 871.50 L232.13 871.62 L233.29 871.75 L234.45 871.88 L235.62 872.01 L236.78 872.14 L237.94 872.27 L239.10 872.40 L240.26 872.53 L241.42 872.66 L242.58 872.79 L243.74 872.92 L244.90 873.05 L246.06 873.18 L247.22 873.31 L248.38 873.44 L249.54 873.57 L250.70 873.70 L251.86 873.82 L253.02 873.95 L254.18 874.07 L255.34 874.19 L256.50 874.31 L257.67 874.43 L258.83 874.55 L259.99 874.66 L261.15 874.78 L262.31 874.89 L263.47 875.00 L264.63 875.11 L265.79 875.21 L266.95 875.31 L268.11 875.41 L269.27 875.51 L270.43 875.60 L271.59 875.70 L272.75 875.79 L273.91 875.87 L275.07 875.96 L276.23 876.04 L277.39 876.11 L278.55 876.19 L279.71 876.26 L280.88 876.33 L282.04 876.39 L283.20 876.46 L284.36 876.51 L285.52 876.57 L286.68 876.62 L287.84 876.67 L289.00 876.72 L290.16 876.76 L291.32 876.80 L292.48 876.83 L293.64 876.87 L294.80 876.90 L295.96 876.92 L297.12 876.95 L298.28 876.97 L299.44 876.98 L300.60 877.00 L301.76 877.01 L302.92 877.02 L304.09 877.02 L305.25 877.02 L306.41 877.02 L307.57 877.02 L308.73 877.02 L309.89 877.01 L311.05 877.00 L312.21 876.99 L313.37 876.97 L314.53 876.95 L315.69 876.94 L316.85 876.92 L318.01 876.89 L319.17 876.87 L320.33 876.85 L321.49 876.82 L322.65 876.79 L323.81 876.76 L324.97 876.74 L326.13 876.71 L327.30 876.68 L328.46 876.65 L329.62 876.62 L330.78 876.59 L331.94 876.56 L333.10 876.53 L334.26 876.50 L335.42 876.47 L336.58 876.44 L337.74 876.42 L338.90 876.39 L340.06 876.37 L341.22 876.35 L342.38 876.33 L343.54 876.32 L344.70 876.31 L345.86 876.30 L347.02 876.29 L348.18 876.29 L349.34 876.29 L350.50 876.29 L351.67 876.30 L352.83 876.31 L353.99 876.33 L355.15 876.35 L356.31 876.38 L357.47 876.41 L358.63 876.45 L359.79 876.49 L360.95 876.54 L362.11 876.60 L363.27 876.66 L364.43 876.73 L365.59 876.81 L366.75 876.89 L367.91 876.99 L369.07 877.09 L370.23 877.20 L371.39 877.32 L372.55 877.44 L373.72 877.58 L374.88 877.73 L376.04 877.88 L377.20 878.05 L378.36 878.23 L379.52 878.41 L380.68 878.61 L381.84 878.82 L383.00 879.04 L384.16 879.27 L385.32 879.52 L386.48 879.77 L387.64 880.04 L388.80 880.33 L389.96 880.62 L391.12 880.93 L392.28 881.26 L393.44 881.59 L394.60 881.94 L395.76 882.31 L396.93 882.69 L398.09 883.09 L399.25 883.50 L400.41 883.93 L401.57 884.37 L402.73 884.83 L403.89 885.30 L405.05 885.80 L406.21 886.31 L407.37 886.83 L408.53 887.38 L409.69 887.94 L410.85 888.52 L412.01 889.12 L413.17 889.74 L414.33 890.37 L415.49 891.03 L416.65 891.70 L417.81 892.40 L418.97 893.11 L420.13 893.84 L421.30 894.60 L422.46 895.37 L423.62 896.17 L424.78 896.98 L425.94 897.82 L427.10 898.68 L428.26 899.56 L429.42 900.46 L430.58 901.39 L431.74 902.33 L432.90 903.30 L434.06 904.30 L435.22 905.31 L436.38 906.35 L437.54 907.41 L438.70 908.50 L439.86 909.61 L441.02 910.74 L442.18 911.90 L443.35 913.08 L444.51 914.29 L445.67 915.52 L446.83 916.77 L447.99 918.06 L449.15 919.36 L450.31 920.69 L451.47 922.05 L452.63 923.44 L453.79 924.85 L454.95 926.28 L456.11 927.75 L457.27 929.24 L458.43 930.75 L459.59 932.29 L460.75 933.87 L461.91 935.46 L463.07 937.09 L464.23 938.74 L465.39 940.42 L466.56 942.13 L467.72 943.86 L468.88 945.63 L470.04 947.42 L471.20 949.24 L472.36 951.09 L473.52 952.97 L474.68 954.88 L475.84 956.81 L477.00 958.78 L478.16 960.77 L479.32 962.80 L480.48 964.85 L481.64 966.94 L482.80 969.05 L483.96 971.19 L485.12 973.37 L486.28 975.57 L487.44 977.80 L488.60 980.07 L489.77 982.36 L490.93 984.69 L492.09 987.04 L493.25 989.43 L494.41 991.85 L495.57 994.29 L496.73 996.77 L497.89 999.29 L499.05 1001.09" stroke="#00ff00" stroke-dasharray="10.9 6.4 2.3 6.2"/>
<path d="M106.80 862.19 L107.96 861.86 L109.12 861.54 L110.28 861.23 L111.44 860.92 L112.60 860.63 L113.76 860.34 L114.92 860.06 L116.08 859.80 L117.24 859.54 L118.40 859.28 L119.57 859.04 L120.73 858.81 L121.89 858.58 L123.05 858.36 L124.21 858.15 L125.37 857.95 L126.53 857.76 L127.69 857.57 L128.85 857.40 L130.01 857.23 L131.17 857.07 L132.33 856.92 L133.49 856.78 L134.65 856.64 L135.81 856.52 L136.97 856.40 L138.13 856.29 L139.29 856.18 L140.45 856.09 L141.62 856.00 L142.78 855.92 L143.94 855.85 L145.10 855.79 L146.26 855.73 L147.42 855.68 L148.58 855.64 L149.74 855.61 L150.90 855.59 L152.06 855.57 L153.22 855.56 L154.38 855.55 L155.54 855.56 L156.70 855.57 L157.86 855.59 L159.02 855.61 L160.18 855.64 L161.34 855.68 L162.50 855.73 L163.66 855.78 L164.82 855.84 L165.99 855.90 L167.15 855.98 L168.31 856.06 L169.47 856.14 L170.63 856.23 L171.79 856.33 L172.95 856.43 L174.11 856.54 L175.27 856.66 L176.43 856.78 L177.59 856.90 L178.75 857.04 L179.91 857.18 L181.07 857.32 L182.23 857.47 L183.39 857.62 L184.55 857.78 L185.71 857.94 L186.87 858.11 L188.04 858.29 L189.20 858.46 L190.36 858.65 L191.52 858.83 L192.68 859.02 L193.84 859.22 L195.00 859.42 L196.16 859.62 L197.32 859.83 L198.48 860.04 L199.64 860.26 L200.80 860.47 L201.96 860.70 L203.12 860.92 L204.28 861.15 L205.44 861.38 L206.60 861.61 L207.76 861.85 L208.92 862.09 L210.08 862.33 L211.25 862.57 L212.41 862.81 L213.57 863.06 L214.73 863.31 L215.89 863.56 L217.05 863.81 L218.21 864.07 L219.37 864.32 L220.53 864.58 L221.69 864.83 L222.85 865.09 L224.01 865.35 L225.17 865.61 L226.33 865.86 L227.49 866.12 L228.65 866.38 L229.81 866.64 L230.97 866.90 L232.13 867.16 L233.29 867.41 L234.45 867.67 L235.62 867.93 L236.78 868.18 L237.94 868.44 L239.10 868.69 L240.26 868.94 L241.42 869.19 L242.58 869.43 L243.74 869.68 L244.90 869.92 L246.06 870.17 L247.22 870.40 L248.38 870.64 L249.54 870.87 L250.70 871.11 L251.86 871.33 L253.02 871.56 L254.18 871.78 L255.34 872.00 L256.50 872.22 L257.67 872.43 L258.83 872.64 L259.99 872.84 L261.15 873.04 L262.31 873.24 L263.47 873.43 L264.63 873.62 L265.79 873.80 L266.95 873.98 L268.11 874.16 L269.27 874.33 L270.43 874.50 L271.59 874.66 L272.75 874.81 L273.91 874.97 L275.07 875.11 L276.23 875.25 L277.39 875.39 L278.55 875.52 L279.71 875.65 L280.88 875.77 L282.04 875.88 L283.20 875.99 L284.36 876.10 L285.52 876.20 L286.68 876.29 L287.84 876.38 L289.00 876.46 L290.16 876.54 L291.32 876.61 L292.48 876.67 L293.64 876.73 L294.80 876.79 L295.96 876.83 L297.12 876.88 L298.28 876.91 L299.44 876.95 L300.60 876.97 L301.76 876.99 L302.92 877.01 L304.09 877.02 L305.25 877.02 L306.41 877.02 L307.57 877.02 L308.73 877.01 L309.89 876.99 L311.05 876.97 L312.21 876.95 L313.37 876.92 L314.53 876.88 L315.69 876.84 L316.85 876.80 L318.01 876.75 L319.17 876.70 L320.33 876.64 L321.49 876.58 L322.65 876.51 L323.81 876.45 L324.97 876.37 L326.13 876.30 L327.30 876.22 L328.46 876.14 L329.62 876.05 L330.78 875.97 L331.94 875.88 L333.10 875.78 L334.26 875.69 L335.42 875.59 L336.58 875.49 L337.74 875.39 L338.90 875.29 L340.06 875.19 L341.22 875.09 L342.38 874.98 L343.54 874.88 L344.70 874.77 L345.86 874.66 L347.02 874.56 L348.18 874.45 L349.34 874.35 L350.50 874.24 L351.67 874.14 L352.83 874.04 L353.99 873.94 L355.15 873.84 L356.31 873.74 L357.47 873.64 L358.63 873.55 L359.79 873.46 L360.95 873.38 L362.11 873.29 L363.27 873.21 L364.43 873.13 L365.59 873.06 L366.75 872.99 L367.91 872.93 L369.07 872.87 L370.23 872.82 L371.39 872.77 L372.55 872.73 L373.72 872.69 L374.88 872.66 L376.04 872.63 L377.20 872.61 L378.36 872.60 L379.52 872.60 L380.68 872.60 L381.84 872.61 L383.00 872.63 L384.16 872.66 L385.32 872.70 L386.48 872.74 L387.64 872.80 L388.80 872.86 L389.96 872.93 L391.12 873.01 L392.28 873.11 L393.44 873.21 L394.60 873.33 L395.76 873.45 L396.93 873.59 L398.09 873.73 L399.25 873.89 L400.41 874.07 L401.57 874.25 L402.73 874.45 L403.89 874.65 L405.05 874.88 L406.21 875.11 L407.37 875.36 L408.53 875.62 L409.69 875.90 L410.85 876.19 L412.01 876.50 L413.17 876.82 L414.33 877.15 L415.49 877.50 L416.65 877.87 L417.81 878.25 L418.97 878.65 L420.13 879.06 L421.30 879.49 L422.46 879.94 L423.62 880.40 L424.78 880.88 L425.94 881.38 L427.10 881.90 L428.26 882.43 L429.42 882.98 L430.58 883.55 L431.74 884.14 L432.90 884.75 L434.06 885.37 L435.22 886.02 L436.38 886.68 L437.54 887.36 L438.70 888.06 L439.86 888.79 L441.02 889.53 L442.18 890.29 L443.35 891.07 L444.51 891.88 L445.67 892.70 L446.83 893.55 L447.99 894.41 L449.15 895.30 L450.31 896.21 L451.47 897.14 L452.63 898.09 L453.79 899.07 L454.95 900.07 L456.11 901.09 L457.27 902.13 L458.43 903.19 L459.59 904.28 L460.75 905.39 L461.91 906.52 L463.07 907.68 L464.23 908.86 L465.39 910.06 L466.56 911.29 L467.72 912.54 L468.88 913.82 L470.04 915.12 L471.20 916.44 L472.36 917.79 L473.52 919.17 L474.68 920.56 L475.84 921.99 L477.00 923.43 L478.16 924.91 L479.32 926.41 L480.48 927.93 L481.64 929.48 L482.80 931.05 L483.96 932.65 L485.12 934.28 L486.28 935.93 L487.44 937.61 L488.60 939.32 L489.77 941.05 L490.93 942.81 L492.09 944.59 L493.25 946.40 L494.41 948.24 L495.57 950.11 L496.73 952.00 L497.89 953.92 L499.05 955.86 L500.21 957.84 L501.37 959.84 L502.53 961.87 L503.69 963.92 L504.85 966.00 L506.01 968.12 L507.17 970.26 L508.33 972.42 L509.49 974.62 L510.65 976.84 L511.81 979.09 L512.98 981.37 L514.14 983.68 L515.30 986.02 L516.46 988.38 L517.62 990.78 L518.78 993.20 L519.94 995.65 L521.10 998.13 L522.26 1000.64 L523.42 1001.09" stroke="#0000ff" stroke-dasharray="2.4 6.4"/>
<path d="M106.80 848.71 L107.96 848.55 L109.12 848.40 L110.28 848.26 L111.44 848.13 L112.60 848.00 L113.76 847.89 L114.92 847.78 L116.08 847.67 L117.24 847.58 L118.40 847.49 L119.57 847.41 L120.73 847.34 L121.89 847.27 L123.05 847.21 L124.21 847.16 L125.37 847.12 L126.53 847.09 L127.69 847.06 L128.85 847.04 L130.01 847.02 L131.17 847.01 L132.33 847.01 L133.49 847.02 L134.65 847.04 L135.81 847.06 L136.97 847.09 L138.13 847.12 L139.29 847.16 L140.45 847.21 L141.62 847.27 L142.78 847.33 L143.94 847.40 L145.10 847.48 L146.26 847.56 L147.42 847.65 L148.58 847.74 L149.74 847.84 L150.90 847.95 L152.06 848.06 L153.22 848.19 L154.38 848.31 L155.54 848.44 L156.70 848.58 L157.86 848.73 L159.02 848.88 L160.18 849.03 L161.34 849.19 L162.50 849.36 L163.66 849.54 L164.82 849.71 L165.99 849.90 L167.15 850.09 L168.31 850.28 L169.47 850.48 L170.63 850.68 L171.79 850.89 L172.95 851.11 L174.11 851.33 L175.27 851.55 L176.43 851.78 L177.59 852.01 L178.75 852.25 L179.91 852.49 L181.07 852.74 L182.23 852.99 L183.39 853.24 L184.55 853.50 L185.71 853.76 L186.87 854.02 L188.04 854.29 L189.20 854.56 L190.36 854.84 L191.52 855.12 L192.68 855.40 L193.84 855.68 L195.00 855.97 L196.16 856.26 L197.32 856.56 L198.48 856.85 L199.64 857.15 L200.80 857.45 L201.96 857.75 L203.12 858.05 L204.28 858.36 L205.44 858.67 L206.60 858.98 L207.76 859.29 L208.92 859.60 L210.08 859.91 L211.25 860.22 L212.41 860.54 L213.57 860.85 L214.73 861.17 L215.89 861.49 L217.05 861.80 L218.21 862.12 L219.37 862.44 L220.53 862.75 L221.69 863.07 L222.85 863.39 L224.01 863.70 L225.17 864.02 L226.33 864.33 L227.49 864.64 L228.65 864.96 L229.81 865.27 L230.97 865.58 L232.13 865.88 L233.29 866.19 L234.45 866.49 L235.62 866.80 L236.78 867.10 L237.94 867.40 L239.10 867.69 L240.26 867.98 L241.42 868.27 L242.58 868.56 L243.74 868.85 L244.90 869.13 L246.06 869.41 L247.22 869.68 L248.38 869.95 L249.54 870.22 L250.70 870.48 L251.86 870.74 L253.02 871.00 L254.18 871.25 L255.34 871.50 L256.50 871.74 L257.67 871.98 L258.83 872.22 L259.99 872.45 L261.15 872.67 L262.31 872.89 L263.47 873.11 L264.63 873.32 L265.79 873.52 L266.95 873.72 L268.11 873.91 L269.27 874.10 L270.43 874.29 L271.59 874.46 L272.75 874.64 L273.91 874.80 L275.07 874.96 L276.23 875.12 L277.39 875.27 L278.55 875.41 L279.71 875.55 L280.88 875.68 L282.04 875.80 L283.20 875.92 L284.36 876.03 L285.52 876.14 L286.68 876.24 L287.84 876.33 L289.00 876.42 L290.16 876.50 L291.32 876.58 L292.48 876.65 L293.64 876.71 L294.80 876.77 L295.96 876.82 L297.12 876.87 L298.28 876.91 L299.44 876.94 L300.60 876.97 L301.76 876.99 L302.92 877.01 L304.09 877.02 L305.25 877.02 L306.41 877.02 L307.57 877.02 L308.73 877.01 L309.89 876.99 L311.05 876.97 L312.21 876.94 L313.37 876.91 L314.53 876.88 L315.69 876.83 L316.85 876.79 L318.01 876.74 L319.17 876.69 L320.33 876.63 L321.49 876.57 L322.65 876.50 L323.81 876.43 L324.97 876.36 L326.13 876.28 L327.30 876.21 L328.46 876.12 L329.62 876.04 L330.78 875.95 L331.94 875.86 L333.10 875.77 L334.26 875.68 L335.42 875.59 L336.58 875.49 L337.74 875.39 L338.90 875.30 L340.06 875.20 L341.22 875.10 L342.38 875.00 L343.54 874.90 L344.70 874.80 L345.86 874.71 L347.02 874.61 L348.18 874.51 L349.34 874.42 L350.50 874.33 L351.67 874.24 L352.83 874.15 L353.99 874.06 L355.15 873.98 L356.31 873.90 L357.47 873.82 L358.63 873.75 L359.79 873.68 L360.95 873.61 L362.11 873.55 L363.27 873.50 L364.43 873.45 L365.59 873.40 L366.75 873.37 L367.91 873.33 L369.07 873.31 L370.23 873.29 L371.39 873.27 L372.55 873.27 L373.72 873.27 L374.88 873.28 L376.04 873.30 L377.20 873.33 L378.36 873.37 L379.52 873.41 L380.68 873.47 L381.84 873.53 L383.00 873.61 L384.16 873.70 L385.32 873.79 L386.48 873.90 L387.64 874.02 L388.80 874.16 L389.96 874.30 L391.12 874.46 L392.28 874.63 L393.44 874.81 L394.60 875.01 L395.76 875.22 L396.93 875.45 L398.09 875.69 L399.25 875.94 L400.41 876.21 L401.57 876.50 L402.73 876.80 L403.89 877.11 L405.05 877.45 L406.21 877.80 L407.37 878.17 L408.53 878.55 L409.69 878.96 L410.85 879.38 L412.01 879.82 L413.17 880.28 L414.33 880.75 L415.49 881.25 L416.65 881.77 L417.81 882.30 L418.97 882.86 L420.13 883.44 L421.30 884.04 L422.46 884.66 L423.62 885.30 L424.78 885.96 L425.94 886.65 L427.10 887.35 L428.26 888.08 L429.42 888.84 L430.58 889.62 L431.74 890.42 L432.90 891.24 L434.06 892.09 L435.22 892.96 L436.38 893.86 L437.54 894.78 L438.70 895.73 L439.86 896.71 L441.02 897.71 L442.18 898.73 L443.35 899.79 L444.51 900.87 L445.67 901.98 L446.83 903.11 L447.99 904.27 L449.15 905.46 L450.31 906.68 L451.47 907.93 L452.63 909.20 L453.79 910.51 L454.95 911.84 L456.11 913.21 L457.27 914.60 L458.43 916.03 L459.59 917.48 L460.75 918.97 L461.91 920.48 L463.07 922.03 L464.23 923.61 L465.39 925.22 L466.56 926.86 L467.72 928.54 L468.88 930.24 L470.04 931.98 L471.20 933.76 L472.36 935.56 L473.52 937.40 L474.68 939.28 L475.84 941.19 L477.00 943.13 L478.16 945.11 L479.32 947.12 L480.48 949.16 L481.64 951.25 L482.80 953.36 L483.96 955.52 L485.12 957.71 L486.28 959.93 L487.44 962.20 L488.60 964.50 L489.77 966.83 L490.93 969.21 L492.09 971.62 L493.25 974.07 L494.41 976.55 L495.57 979.08 L496.73 981.64 L497.89 984.25 L499.05 986.89 L500.21 989.57 L501.37 992.29 L502.53 995.05 L503.69 997.85 L504.85 1000.69 L506.01 1001.09" stroke="#ff0000" stroke-dasharray="14 11"/>
<path d="M106.80 897.43 L107.96 896.84 L109.12 896.26 L110.28 895.69 L111.44 895.13 L112.60 894.58 L113.76 894.03 L114.92 893.49 L116.08 892.96 L117.24 892.44 L118.40 891.93 L119.57 891.42 L120.73 890.93 L121.89 890.44 L123.05 889.96 L124.21 889.49 L125.37 889.02 L126.53 888.57 L127.69 888.12 L128.85 887.68 L130.01 887.25 L131.17 886.82 L132.33 886.41 L133.49 886.00 L134.65 885.60 L135.81 885.21 L136.97 884.83 L138.13 884.45 L139.29 884.08 L140.45 883.72 L141.62 883.37 L142.78 883.02 L143.94 882.69 L145.10 882.36 L146.26 882.04 L147.42 881.72 L148.58 881.41 L149.74 881.12 L150.90 880.82 L152.06 880.54 L153.22 880.26 L154.38 879.99 L155.54 879.73 L156.70 879.48 L157.86 879.23 L159.02 878.99 L160.18 878.76 L161.34 878.53 L162.50 878.31 L163.66 878.10 L164.82 877.89 L165.99 877.69 L167.15 877.50 L168.31 877.32 L169.47 877.14 L170.63 876.97 L171.79 876.80 L172.95 876.64 L174.11 876.49 L175.27 876.34 L176.43 876.20 L177.59 876.07 L178.75 875.94 L179.91 875.82 L181.07 875.70 L182.23 875.59 L183.39 875.49 L184.55 875.39 L185.71 875.29 L186.87 875.21 L188.04 875.12 L189.20 875.05 L190.36 874.97 L191.52 874.91 L192.68 874.84 L193.84 874.79 L195.00 874.73 L196.16 874.69 L197.32 874.64 L198.48 874.61 L199.64 874.57 L200.80 874.54 L201.96 874.52 L203.12 874.50 L204.28 874.48 L205.44 874.46 L206.60 874.46 L207.76 874.45 L208.92 874.45 L210.08 874.45 L211.25 874.45 L212.41 874.46 L213.57 874.47 L214.73 874.49 L215.89 874.50 L217.05 874.52 L218.21 874.55 L219.37 874.57 L220.53 874.60 L221.69 874.63 L222.85 874.66 L224.01 874.70 L225.17 874.73 L226.33 874.77 L227.49 874.81 L228.65 874.85 L229.81 874.90 L230.97 874.94 L232.13 874.99 L233.29 875.03 L234.45 875.08 L235.62 875.13 L236.78 875.18 L237.94 875.23 L239.10 875.29 L240.26 875.34 L241.42 875.39 L242.58 875.44 L243.74 875.50 L244.90 875.55 L246.06 875.61 L247.22 875.66 L248.38 875.71 L249.54 875.77 L250.70 875.82 L251.86 875.87 L253.02 875.92 L254.18 875.98 L255.34 876.03 L256.50 876.08 L257.67 876.13 L258.83 876.17 L259.99 876.22 L261.15 876.27 L262.31 876.31 L263.47 876.36 L264.63 876.40 L265.79 876.44 L266.95 876.48 L268.11 876.52 L269.27 876.56 L270.43 876.60 L271.59 876.63 L272.75 876.66 L273.91 876.70 L275.07 876.73 L276.23 876.75 L277.39 876.78 L278.55 876.81 L279.71 876.83 L280.88 876.85 L282.04 876.87 L283.20 876.89 L284.36 876.91 L285.52 876.93 L286.68 876.94 L287.84 876.96 L289.00 876.97 L290.16 876.98 L291.32 876.99 L292.48 877.00 L293.64 877.00 L294.80 877.01 L295.96 877.01 L297.12 877.02 L298.28 877.02 L299.44 877.02 L300.60 877.02 L301.76 877.02 L302.92 877.02 L304.09 877.02 L305.25 877.02 L306.41 877.03 L307.57 877.03 L308.73 877.03 L309.89 877.03 L311.05 877.03 L312.21 877.03 L313.37 877.03 L314.53 877.04 L315.69 877.04 L316.85 877.05 L318.01 877.06 L319.17 877.07 L320.33 877.08 L321.49 877.09 L322.65 877.11 L323.81 877.13 L324.97 877.15 L326.13 877.17 L327.30 877.20 L328.46 877.23 L329.62 877.27 L330.78 877.31 L331.94 877.36 L333.10 877.41 L334.26 877.46 L335.42 877.52 L336.58 877.58 L337.74 877.65 L338.90 877.73 L340.06 877.81 L341.22 877.90 L342.38 878.00 L343.54 878.10 L344.70 878.22 L345.86 878.34 L347.02 878.46 L348.18 878.60 L349.34 878.75 L350.50 878.90 L351.67 879.06 L352.83 879.24 L353.99 879.42 L355.15 879.62 L356.31 879.83 L357.47 880.04 L358.63 880.27 L359.79 880.51 L360.95 880.77 L362.11 881.03 L363.27 881.31 L364.43 881.61 L365.59 881.92 L366.75 882.24 L367.91 882.57 L369.07 882.93 L370.23 883.29 L371.39 883.68 L372.55 884.07 L373.72 884.49 L374.88 884.92 L376.04 885.37 L377.20 885.84 L378.36 886.33 L379.52 886.83 L380.68 887.36 L381.84 887.90 L383.00 888.47 L384.16 889.05 L385.32 889.65 L386.48 890.28 L387.64 890.93 L388.80 891.60 L389.96 892.29 L391.12 893.00 L392.28 893.74 L393.44 894.50 L394.60 895.28 L395.76 896.09 L396.93 896.93 L398.09 897.78 L399.25 898.67 L400.41 899.58 L401.57 900.52 L402.73 901.48 L403.89 902.47 L405.05 903.49 L406.21 904.53 L407.37 905.61 L408.53 906.71 L409.69 907.84 L410.85 909.01 L412.01 910.20 L413.17 911.42 L414.33 912.68 L415.49 913.96 L416.65 915.28 L417.81 916.63 L418.97 918.01 L420.13 919.42 L421.30 920.87 L422.46 922.35 L423.62 923.87 L424.78 925.42 L425.94 927.00 L427.10 928.62 L428.26 930.28 L429.42 931.97 L430.58 933.70 L431.74 935.47 L432.90 937.27 L434.06 939.11 L435.22 940.99 L436.38 942.91 L437.54 944.86 L438.70 946.86 L439.86 948.89 L441.02 950.97 L442.18 953.08 L443.35 955.24 L444.51 957.44 L445.67 959.68 L446.83 961.96 L447.99 964.28 L449.15 966.65 L450.31 969.06 L451.47 971.51 L452.63 974.01 L453.79 976.55 L454.95 979.14 L456.11 981.77 L457.27 984.45 L458.43 987.17 L459.59 989.94 L460.75 992.76 L461.91 995.62 L463.07 998.53 L464.23 1001.09" stroke="#00ffff" stroke-dasharray="11.1 6.4 2.5 6.2 2.5 6.2 2.5 6.3"/>
</g>
<path d="M120.34 366.40 v4.75 M120.34 825.75 v9.50 M120.34 923.55 v-4.75 M133.19 366.40 v4.75 M133.19 825.75 v9.50 M133.19 923.55 v-4.75 M143.69 366.40 v4.75 M143.69 825.75 v9.50 M143.69 923.55 v-4.75 M152.57 366.40 v4.75 M152.57 825.75 v9.50 M152.57 923.55 v-4.75 M160.26 366.40 v4.75 M160.26 825.75 v9.50 M160.26 923.55 v-4.75 M167.05 366.40 v4.75 M167.05 825.75 v9.50 M167.05 923.55 v-4.75 M173.11 366.40 v9.05 M173.11 821.45 v18.10 M173.11 923.55 v-9.05 M213.04 366.40 v4.75 M213.04 825.75 v9.50 M213.04 923.55 v-4.75 M236.39 366.40 v4.75 M236.39 825.75 v9.50 M236.39 923.55 v-4.75 M252.96 366.40 v4.75 M252.96 825.75 v9.50 M252.96 923.55 v-4.75 M265.82 366.40 v4.75 M265.82 825.75 v9.50 M265.82 923.55 v-4.75 M276.32 366.40 v4.75 M276.32 825.75 v9.50 M276.32 923.55 v-4.75 M285.20 366.40 v4.75 M285.20 825.75 v9.50 M285.20 923.55 v-4.75 M292.89 366.40 v4.75 M292.89 825.75 v9.50 M292.89 923.55 v-4.75 M299.67 366.40 v4.75 M299.67 825.75 v9.50 M299.67 923.55 v-4.75 M305.74 366.40 v9.05 M305.74 821.45 v18.10 M305.74 923.55 v-9.05 M345.67 366.40 v4.75 M345.67 825.75 v9.50 M345.67 923.55 v-4.75 M369.02 366.40 v4.75 M369.02 825.75 v9.50 M369.02 923.55 v-4.75 M385.59 366.40 v4.75 M385.59 825.75 v9.50 M385.59 923.55 v-4.75 M398.45 366.40 v4.75 M398.45 825.75 v9.50 M398.45 923.55 v-4.75 M408.95 366.40 v4.75 M408.95 825.75 v9.50 M408.95 923.55 v-4.75 M417.83 366.40 v4.75 M417.83 825.75 v9.50 M417.83 923.55 v-4.75 M425.52 366.40 v4.75 M425.52 825.75 v9.50 M425.52 923.55 v-4.75 M432.30 366.40 v4.75 M432.30 825.75 v9.50 M432.30 923.55 v-4.75 M438.37 366.40 v9.05 M438.37 821.45 v18.10 M438.37 923.55 v-9.05 M478.30 366.40 v4.75 M478.30 825.75 v9.50 M478.30 923.55 v-4.75 M501.65 366.40 v4.75 M501.65 825.75 v9.50 M501.65 923.55 v-4.75 M518.22 366.40 v4.75 M518.22 825.75 v9.50 M518.22 923.55 v-4.75 M531.07 366.40 v4.75 M531.07 825.75 v9.50 M531.07 923.55 v-4.75 M541.58 366.40 v4.75 M541.58 825.75 v9.50 M541.58 923.55 v-4.75 M550.46 366.40 v4.75 M550.46 825.75 v9.50 M550.46 923.55 v-4.75 M558.15 366.40 v4.75 M558.15 825.75 v9.50 M558.15 923.55 v-4.75 M564.93 366.40 v4.75 M564.93 825.75 v9.50 M564.93 923.55 v-4.75 M571.00 366.40 v9.05 M571.00 821.45 v18.10 M571.00 923.55 v-9.05 M106.80 818.66 h4.75 M571.00 818.66 h-4.75 M106.80 807.41 h4.75 M571.00 807.41 h-4.75 M106.80 798.23 h4.75 M571.00 798.23 h-4.75 M106.80 790.46 h4.75 M571.00 790.46 h-4.75 M106.80 783.73 h4.75 M571.00 783.73 h-4.75 M106.80 777.80 h4.75 M571.00 777.80 h-4.75 M106.80 772.49 h9.05 M571.00 772.49 h-9.05 M106.80 737.56 h4.75 M571.00 737.56 h-4.75 M106.80 717.13 h4.75 M571.00 717.13 h-4.75 M106.80 702.63 h4.75 M571.00 702.63 h-4.75 M106.80 691.39 h4.75 M571.00 691.39 h-4.75 M106.80 682.20 h4.75 M571.00 682.20 h-4.75 M106.80 674.43 h4.75 M571.00 674.43 h-4.75 M106.80 667.71 h4.75 M571.00 667.71 h-4.75 M106.80 661.77 h4.75 M571.00 661.77 h-4.75 M106.80 656.46 h9.05 M571.00 656.46 h-9.05 M106.80 621.54 h4.75 M571.00 621.54 h-4.75 M106.80 601.10 h4.75 M571.00 601.10 h-4.75 M106.80 586.61 h4.75 M571.00 586.61 h-4.75 M106.80 575.36 h4.75 M571.00 575.36 h-4.75 M106.80 566.18 h4.75 M571.00 566.18 h-4.75 M106.80 558.41 h4.75 M571.00 558.41 h-4.75 M106.80 551.68 h4.75 M571.00 551.68 h-4.75 M106.80 545.75 h4.75 M571.00 545.75 h-4.75 M106.80 540.44 h9.05 M571.00 540.44 h-9.05 M106.80 505.51 h4.75 M571.00 505.51 h-4.75 M106.80 485.08 h4.75 M571.00 485.08 h-4.75 M106.80 470.58 h4.75 M571.00 470.58 h-4.75 M106.80 459.34 h4.75 M571.00 459.34 h-4.75 M106.80 450.15 h4.75 M571.00 450.15 h-4.75 M106.80 442.38 h4.75 M571.00 442.38 h-4.75 M106.80 435.66 h4.75 M571.00 435.66 h-4.75 M106.80 429.72 h4.75 M571.00 429.72 h-4.75 M106.80 424.41 h9.05 M571.00 424.41 h-9.05 M106.80 389.49 h4.75 M571.00 389.49 h-4.75 M106.80 369.05 h4.75 M571.00 369.05 h-4.75 M106.80 920.45 h4.75 M571.00 920.45 h-4.75 M106.80 914.25 h4.75 M571.00 914.25 h-4.75 M106.80 908.04 h9.05 M571.00 908.04 h-9.05 M106.80 901.84 h4.75 M571.00 901.84 h-4.75 M106.80 895.63 h4.75 M571.00 895.63 h-4.75 M106.80 889.43 h4.75 M571.00 889.43 h-4.75 M106.80 883.23 h4.75 M571.00 883.23 h-4.75 M106.80 877.02 h9.05 M571.00 877.02 h-9.05 M106.80 870.82 h4.75 M571.00 870.82 h-4.75 M106.80 864.62 h4.75 M571.00 864.62 h-4.75 M106.80 858.41 h4.75 M571.00 858.41 h-4.75 M106.80 852.21 h4.75 M571.00 852.21 h-4.75 M106.80 846.01 h9.05 M571.00 846.01 h-9.05 M106.80 839.80 h4.75 M571.00 839.80 h-4.75 M106.80 833.60 h4.75 M571.00 833.60 h-4.75" fill="none" stroke="#000" stroke-width="1.35"/>
<path d="M106.80 366.40 H571.00 V923.55 H106.80 Z M106.80 830.50 H571.00" fill="none" stroke="#000" stroke-width="1.50"/>
<g stroke="#ff00ff" stroke-width="1" opacity="0.8"><line x1="106.80" x2="571.00" y1="424.41" y2="424.41"/><line x1="106.80" x2="571.00" y1="877.02" y2="877.02"/></g>
<g fill="none" stroke-width="1.5">
<path d="M172.60 656.46 H240.20" stroke="#00ff00" stroke-dasharray="10.9 6.4 2.3 6.2" stroke-dashoffset="16.2"/>
<path d="M172.60 685.47 H240.20" stroke="#0000ff" stroke-dasharray="2.4 6.4" stroke-dashoffset="3.2"/>
<path d="M172.60 714.48 H240.20" stroke="#ff0000" stroke-dasharray="14 11" stroke-dashoffset="20.9"/>
<path d="M172.60 743.48 H240.20" stroke="#00ffff" stroke-dasharray="11.1 6.4 2.5 6.2 2.5 6.2 2.5 6.3" stroke-dashoffset="2.8"/>
<path d="M172.60 772.49 H240.20" stroke="#000000"/>
</g>
<text transform="translate(253.80 656.96) scale(1.2766 1)" x="-1.21" y="0" font-size="19.50" style="stroke-width:0">(</text>
<text x="261.24" y="656.96" font-size="18.20" font-style="italic">α</text>
<text x="271.99" y="656.96" font-size="19.50">,</text>
<text x="278.27" y="656.96" font-size="17.60">s</text>
<text x="287.14" y="656.96" font-size="19.50">,</text>
<text x="293.06" y="656.96" font-size="17.60">p</text>
<text transform="translate(303.90 656.96) scale(1.2766 1)" x="-0.11" y="0" font-size="19.50" style="stroke-width:0">)</text>
<text transform="translate(312.40 656.96) scale(1.2666 1)" x="-0.95" y="0" font-size="19.50" style="stroke-width:0">=</text>
<text transform="translate(326.70 656.96) scale(1.2572 1)" x="-1.21" y="0" font-size="19.50" style="stroke-width:0">(</text>
<text x="333.84 345.02 350.78" y="656.96" font-size="19.50">0,9</text>
<path d="M362.50 643.96 H371.60" stroke="#000" stroke-width="1.50" fill="none"/>
<path d="M373.65 641.14 L376.30 639.53 V648.86" fill="none" stroke="#000" stroke-width="1.46" stroke-linejoin="miter" stroke-miterlimit="2" stroke-linecap="butt"/>
<text x="379.55 385.48 391.42 402.78" y="656.96" font-size="19.50">,.29</text>
<text transform="translate(414.10 656.96) scale(1.2185 1)" x="-0.11" y="0" font-size="19.50" style="stroke-width:0">)</text>
<text transform="translate(253.80 685.97) scale(1.2766 1)" x="-1.21" y="0" font-size="19.50" style="stroke-width:0">(</text>
<text x="261.24" y="685.97" font-size="18.20" font-style="italic">α</text>
<text x="271.99" y="685.97" font-size="19.50">,</text>
<text x="278.27" y="685.97" font-size="17.60">s</text>
<text x="287.14" y="685.97" font-size="19.50">,</text>
<text x="293.06" y="685.97" font-size="17.60">p</text>
<text transform="translate(303.90 685.97) scale(1.2766 1)" x="-0.11" y="0" font-size="19.50" style="stroke-width:0">)</text>
<text transform="translate(312.40 685.97) scale(1.2666 1)" x="-0.95" y="0" font-size="19.50" style="stroke-width:0">=</text>
<text transform="translate(326.70 685.97) scale(1.2572 1)" x="-1.21" y="0" font-size="19.50" style="stroke-width:0">(</text>
<text x="333.84 345.02 350.78" y="685.97" font-size="19.50">0,9</text>
<path d="M362.50 672.97 H371.60" stroke="#000" stroke-width="1.50" fill="none"/>
<path d="M373.65 670.15 L376.30 668.54 V677.87" fill="none" stroke="#000" stroke-width="1.46" stroke-linejoin="miter" stroke-miterlimit="2" stroke-linecap="butt"/>
<text x="379.55 385.46 391.37 402.71" y="685.97" font-size="19.50">,.26</text>
<text transform="translate(414.10 685.97) scale(1.2185 1)" x="-0.11" y="0" font-size="19.50" style="stroke-width:0">)</text>
<text transform="translate(253.80 714.98) scale(1.2766 1)" x="-1.21" y="0" font-size="19.50" style="stroke-width:0">(</text>
<text x="261.24" y="714.98" font-size="18.20" font-style="italic">α</text>
<text x="271.99" y="714.98" font-size="19.50">,</text>
<text x="278.27" y="714.98" font-size="17.60">s</text>
<text x="287.14" y="714.98" font-size="19.50">,</text>
<text x="293.06" y="714.98" font-size="17.60">p</text>
<text transform="translate(303.90 714.98) scale(1.2766 1)" x="-0.11" y="0" font-size="19.50" style="stroke-width:0">)</text>
<text transform="translate(312.40 714.98) scale(1.2666 1)" x="-0.95" y="0" font-size="19.50" style="stroke-width:0">=</text>
<text transform="translate(326.70 714.98) scale(1.2572 1)" x="-1.21" y="0" font-size="19.50" style="stroke-width:0">(</text>
<text x="333.84 344.81 350.36 361.34 366.89 372.44" y="714.98" font-size="19.50">0,0,.2</text>
<text transform="translate(383.70 714.98) scale(1.2185 1)" x="-0.11" y="0" font-size="19.50" style="stroke-width:0">)</text>
<text transform="translate(253.80 743.98) scale(1.2766 1)" x="-1.21" y="0" font-size="19.50" style="stroke-width:0">(</text>
<text x="261.24" y="743.98" font-size="18.20" font-style="italic">α</text>
<text x="271.99" y="743.98" font-size="19.50">,</text>
<text x="278.27" y="743.98" font-size="17.60">s</text>
<text x="287.14" y="743.98" font-size="19.50">,</text>
<text x="293.06" y="743.98" font-size="17.60">p</text>
<text transform="translate(303.90 743.98) scale(1.2766 1)" x="-0.11" y="0" font-size="19.50" style="stroke-width:0">)</text>
<text transform="translate(312.40 743.98) scale(1.2666 1)" x="-0.95" y="0" font-size="19.50" style="stroke-width:0">=</text>
<text transform="translate(326.70 743.98) scale(1.2572 1)" x="-1.21" y="0" font-size="19.50" style="stroke-width:0">(</text>
<text x="333.84 344.82 350.38 361.37 366.93 372.49 383.47" y="743.98" font-size="19.50">0,0,.25</text>
<text transform="translate(394.90 743.98) scale(1.2185 1)" x="-0.11" y="0" font-size="19.50" style="stroke-width:0">)</text>
<text transform="translate(254.20 772.99) scale(0.8695 1)" x="-1.60" y="0" font-size="19.50">NFW;</text>
<text transform="translate(303.70 772.99) scale(1.2766 1)" x="-1.21" y="0" font-size="19.50" style="stroke-width:0">(</text>
<text x="311.14" y="772.99" font-size="18.20" font-style="italic">α</text>
<text x="321.89" y="772.99" font-size="19.50">,</text>
<text x="328.17" y="772.99" font-size="17.60">s</text>
<text x="337.04" y="772.99" font-size="19.50">,</text>
<text x="342.96" y="772.99" font-size="17.60">p</text>
<text transform="translate(353.80 772.99) scale(1.2766 1)" x="-0.11" y="0" font-size="19.50" style="stroke-width:0">)</text>
<text transform="translate(362.30 772.99) scale(1.2666 1)" x="-0.95" y="0" font-size="19.50" style="stroke-width:0">=</text>
<text transform="translate(376.40 772.99) scale(1.2572 1)" x="-1.21" y="0" font-size="19.50" style="stroke-width:0">(</text>
<path d="M385.19 762.61 L388.69 760.33 V772.89" fill="none" stroke="#000" stroke-width="1.68" stroke-linejoin="miter" stroke-miterlimit="2" stroke-linecap="butt"/><text x="393.75 400.01" y="772.99" font-size="19.50">,3</text>
<path d="M412.30 759.99 H421.30" stroke="#000" stroke-width="1.50" fill="none"/>
<path d="M423.85 757.17 L426.50 755.56 V764.89" fill="none" stroke="#000" stroke-width="1.46" stroke-linejoin="miter" stroke-miterlimit="2" stroke-linecap="butt"/>
<text x="430.65" y="772.99" font-size="19.50">,</text><path d="M440.91 762.61 L444.42 760.33 V772.89" fill="none" stroke="#000" stroke-width="1.68" stroke-linejoin="miter" stroke-miterlimit="2" stroke-linecap="butt"/>
<text transform="translate(447.50 772.99) scale(1.1798 1)" x="-0.11" y="0" font-size="19.50" style="stroke-width:0">)</text>
<text x="437.80" y="412.90" font-size="17.60" font-style="italic">ρ</text>
<path d="M469.3 405.1 C466.2 405.1 464.8 411.4 461.9 411.4 C460.2 411.4 459.2 410 459.2 408.25 C459.2 406.5 460.2 405.1 461.9 405.1 C464.8 405.1 466.2 411.4 469.3 411.4" fill="none" stroke="#000" stroke-width="1.35"/>
<text x="480.28" y="412.90" font-size="17.60">r</text>
<path d="M488.40 399.70 H497.60" stroke="#000" stroke-width="1.50" fill="none"/>
<text x="498.31" y="404.70" font-size="14.70">2</text>
<text x="159.24 170.28" y="946.20" font-size="19.50">0.</text><path d="M179.01 935.83 L182.52 933.55 V946.10" fill="none" stroke="#000" stroke-width="1.68" stroke-linejoin="miter" stroke-miterlimit="2" stroke-linecap="butt"/>
<path d="M303.60 935.83 L307.11 933.55 V946.10" fill="none" stroke="#000" stroke-width="1.68" stroke-linejoin="miter" stroke-miterlimit="2" stroke-linecap="butt"/>
<path d="M430.88 935.83 L434.39 933.55 V946.10" fill="none" stroke="#000" stroke-width="1.68" stroke-linejoin="miter" stroke-miterlimit="2" stroke-linecap="butt"/><text x="438.92" y="946.20" font-size="19.50">0</text>
<path d="M557.88 935.83 L561.39 933.55 V946.10" fill="none" stroke="#000" stroke-width="1.68" stroke-linejoin="miter" stroke-miterlimit="2" stroke-linecap="butt"/><text x="566.09 577.42" y="946.20" font-size="19.50">00</text>
<text x="318.88" y="981.60" font-size="17.60">r</text>
<path d="M326.20 985.30 L336.40 967.20" stroke="#000" stroke-width="1.35" fill="none"/>
<text x="338.33" y="981.60" font-size="17.60">r</text>
<path d="M345.60 983.50 H354.30" stroke="#000" stroke-width="1.50" fill="none"/>
<text x="355.41" y="988.50" font-size="14.70">2</text>
<g transform="translate(95.00 428.00) rotate(-90)"><path d="M0.90 -10.37 L4.41 -12.65 V-0.10" fill="none" stroke="#000" stroke-width="1.68" stroke-linejoin="miter" stroke-miterlimit="2" stroke-linecap="butt"/></g>
<g transform="translate(95.00 556.84) rotate(-90)"><path d="M0.59 -10.37 L4.10 -12.65 V-0.10" fill="none" stroke="#000" stroke-width="1.68" stroke-linejoin="miter" stroke-miterlimit="2" stroke-linecap="butt"/><text x="9.92" y="0.00" font-size="19.50">0</text><path d="M21.60 -13.90 H29.10" stroke="#000" stroke-width="1.50" fill="none"/><path d="M31.40 -16.72 L34.05 -18.33 V-9.00" fill="none" stroke="#000" stroke-width="1.46" stroke-linejoin="miter" stroke-miterlimit="2" stroke-linecap="butt"/></g>
<g transform="translate(95.00 672.86) rotate(-90)"><path d="M0.59 -10.37 L4.10 -12.65 V-0.10" fill="none" stroke="#000" stroke-width="1.68" stroke-linejoin="miter" stroke-miterlimit="2" stroke-linecap="butt"/><text x="9.92" y="0.00" font-size="19.50">0</text><path d="M21.60 -13.90 H29.10" stroke="#000" stroke-width="1.50" fill="none"/><text x="29.71" y="-8.90" font-size="14.70">2</text></g>
<g transform="translate(95.00 788.89) rotate(-90)"><path d="M0.59 -10.37 L4.10 -12.65 V-0.10" fill="none" stroke="#000" stroke-width="1.68" stroke-linejoin="miter" stroke-miterlimit="2" stroke-linecap="butt"/><text x="9.92" y="0.00" font-size="19.50">0</text><path d="M21.60 -13.90 H29.10" stroke="#000" stroke-width="1.50" fill="none"/><text x="29.76" y="-8.90" font-size="14.70">3</text></g>
<g transform="translate(95.00 859.20) rotate(-90)"><text x="-0.76 10.43" y="0.00" font-size="19.50">0.</text><path d="M19.31 -10.37 L22.82 -12.65 V-0.10" fill="none" stroke="#000" stroke-width="1.68" stroke-linejoin="miter" stroke-miterlimit="2" stroke-linecap="butt"/></g>
<g transform="translate(95.00 882.40) rotate(-90)"><text x="0.28" y="0.00" font-size="19.50">0</text></g>
<g transform="translate(95.00 927.20) rotate(-90)"><path d="M0.00 -7.02 H11.80" stroke="#000" stroke-width="1.35" fill="none"/><text x="15.84 27.28" y="0.00" font-size="19.50">0.</text><path d="M36.41 -10.37 L39.92 -12.65 V-0.10" fill="none" stroke="#000" stroke-width="1.68" stroke-linejoin="miter" stroke-miterlimit="2" stroke-linecap="butt"/></g>
<g transform="translate(67.10 658.30) rotate(-90)"><text transform="translate(0.00 0.00) scale(1.1412 1)" x="-1.21" y="0" font-size="19.50" style="stroke-width:0">(</text><text x="5.20" y="0.00" font-size="17.60" font-style="italic">ρ</text><text x="14.13" y="0.00" font-size="17.60">r</text><text x="23.16" y="-8.00" font-size="14.70">2</text><text transform="translate(31.90 0.00) scale(1.1412 1)" x="-0.11" y="0" font-size="19.50" style="stroke-width:0">)</text><path d="M40.60 4.40 L51.60 -14.60" stroke="#000" stroke-width="1.35" fill="none"/><text transform="translate(53.70 0.00) scale(1.1992 1)" x="-1.21" y="0" font-size="19.50" style="stroke-width:0">(</text><text x="59.30" y="0.00" font-size="17.60" font-style="italic">ρ</text><path d="M71.00 2.50 H80.70" stroke="#000" stroke-width="1.50" fill="none"/><text x="81.21" y="7.50" font-size="14.70">2</text><text x="89.13" y="0.00" font-size="17.60">r</text><path d="M97.60 2.50 H106.90" stroke="#000" stroke-width="1.50" fill="none"/><text x="106.91" y="7.50" font-size="14.70">2</text><text x="116.06" y="-8.00" font-size="14.70">2</text><text transform="translate(124.70 0.00) scale(1.1992 1)" x="-0.11" y="0" font-size="19.50" style="stroke-width:0">)</text></g>
</svg></body></html>
